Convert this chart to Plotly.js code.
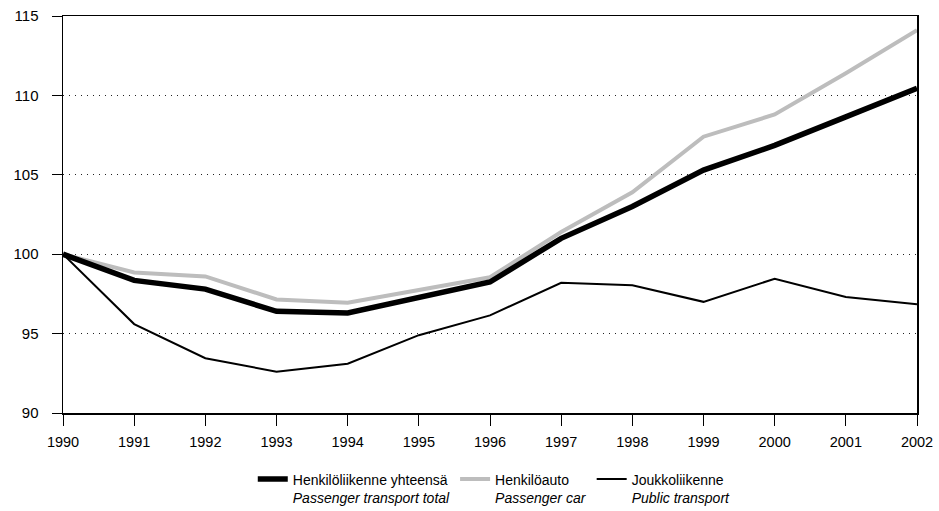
<!DOCTYPE html>
<html>
<head>
<meta charset="utf-8">
<script src="https://cdn.plot.ly/plotly-3.0.1.min.js"></script>
<style>html,body{margin:0;padding:0;background:#fff}#chart{width:939px;height:511px}</style>
</head>
<body>
<div id="chart"></div>
<script>
const years = [1990,1991,1992,1993,1994,1995,1996,1997,1998,1999,2000,2001,2002];
const totalValues = [100,98.35,97.8,96.4,96.3,97.3,98.25,101.0,103.0,105.3,106.85,108.65,110.45];
const carValues = [100,98.85,98.6,97.15,96.95,97.75,98.55,101.4,103.9,107.4,108.8,111.4,114.1];
const publicValues = [100,95.6,93.45,92.6,93.1,94.9,96.15,98.2,98.05,97.0,98.45,97.3,96.85];
const seriesNames = [
  "Henkilöliikenne yhteensä<br><i>Passenger transport total</i>",
  "Henkilöauto<br><i>Passenger car</i>",
  "Joukkoliikenne<br><i>Public transport</i>"
];
const yTicks = [90,95,100,105,110,115];

const font = "Liberation Sans, Arial, Helvetica, sans-serif";
const traces = [
  {x: years, y: publicValues, name: seriesNames[2], mode: "lines", line: {color: "#000", width: 2}},
  {x: years, y: carValues, name: seriesNames[1], mode: "lines", line: {color: "#bdbdbd", width: 4}},
  {x: years, y: totalValues, name: seriesNames[0], mode: "lines", line: {color: "#000", width: 5.5}}
];
const layout = {
  width: 939, height: 511,
  margin: {l: 63, r: 22, t: 16, b: 98},
  paper_bgcolor: "#fff", plot_bgcolor: "#fff",
  font: {family: font, color: "#000", size: 14},
  showlegend: true,
  legend: {orientation: "h", x: 0.505, xanchor: "center", xref: "paper",
           yref: "container", y: 0.093, yanchor: "top",
           traceorder: "reversed", valign: "top", font: {size: 14, family: font},
           itemwidth: 30, tracegroupgap: 0},
  xaxis: {range: [1990, 2002], tickvals: years, ticktext: years.map(String),
          showgrid: false, zeroline: false, showline: true, linecolor: "#000", linewidth: 1.5,
          mirror: true, ticks: "outside", ticklen: 11, tickcolor: "#000",
          ticklabelstandoff: 4, tickfont: {size: 14.5}, fixedrange: true},
  yaxis: {range: [90, 115], tickvals: yTicks, showgrid: true, gridcolor: "#222", gridwidth: 1,
          griddash: "1px,5px", zeroline: false, showline: true, linecolor: "#000", linewidth: 1.5,
          mirror: true, ticks: "outside", ticklen: 10, tickcolor: "#000",
          ticklabelstandoff: 10, tickfont: {size: 15}, fixedrange: true}
};
Plotly.newPlot("chart", traces, layout, {displayModeBar: false, staticPlot: true});
</script>
</body>
</html>
